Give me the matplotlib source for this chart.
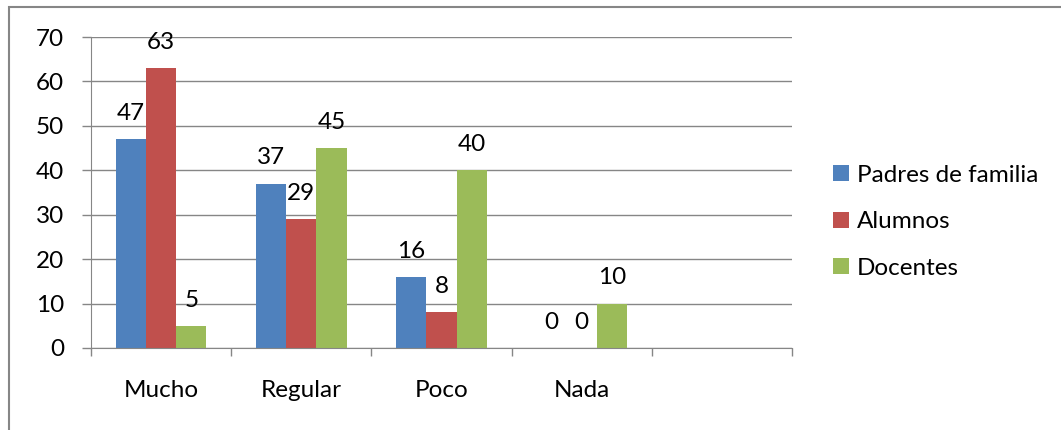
import matplotlib.pyplot as plt
import numpy as np
from matplotlib.patches import Rectangle

# datos
categorias = ['Mucho', 'Regular', 'Poco', 'Nada', '']
padres = [47, 37, 16, 0]
alumnos = [63, 29, 8, 0]
docentes = [5, 45, 40, 10]
series = ['Padres de familia', 'Alumnos', 'Docentes']
colores = ['#4F81BD', '#C0504D', '#9BBB59']

plt.rcParams['font.family'] = ['Lato', 'DejaVu Sans']
fs = 17.5

fig = plt.figure(figsize=(10.61, 4.30), dpi=100)
ax = fig.add_axes([91 / 1061, 1 - 348 / 430, (792 - 91) / 1061, (348 - 37) / 430])

# borde gris de la figura
fig.patches.append(Rectangle((9 / 1061, -0.1), 1.2, (1 - 7 / 430) + 0.1,
                             transform=fig.transFigure, fill=False,
                             edgecolor='#868686', linewidth=1.5))

x = np.arange(4)
w = 0.215
for i, (vals, nom, col) in enumerate(zip([padres, alumnos, docentes], series, colores)):
    pos = x + (i - 1) * w
    ax.bar(pos, vals, w, color=col, label=nom)
    for p, v in zip(pos, vals):
        ax.annotate(str(v), (p, v), xytext=(0, 11), textcoords='offset points',
                    ha='center', va='bottom', fontsize=fs)

ax.set_xlim(-0.5, 4.5)
ax.set_ylim(0, 70)
ax.set_yticks(range(0, 71, 10))
ax.yaxis.grid(True, color='#868686', linewidth=1)
ax.set_axisbelow(True)
ax.set_xticks(np.arange(-0.5, 5, 1))
ax.set_xticklabels([])
ax.set_xticks(np.arange(5), labels=categorias, minor=True)
ax.tick_params(axis='x', which='minor', length=0, labelsize=fs, pad=23)
ax.tick_params(axis='x', which='major', length=5.5, color='#868686', width=1)
ax.tick_params(axis='y', length=6.5, color='#868686', width=1, labelsize=fs, pad=13)
for s in ['top', 'right']:
    ax.spines[s].set_visible(False)
for s in ['left', 'bottom']:
    ax.spines[s].set_color('#868686')

fig.legend(loc='upper left', bbox_to_anchor=(811 / 1061, 1 - 143 / 430), frameon=False,
           fontsize=fs, handlelength=0.65, handleheight=0.65, handletextpad=0.35,
           labelspacing=1.05)

fig.savefig('out.png', dpi=100)
